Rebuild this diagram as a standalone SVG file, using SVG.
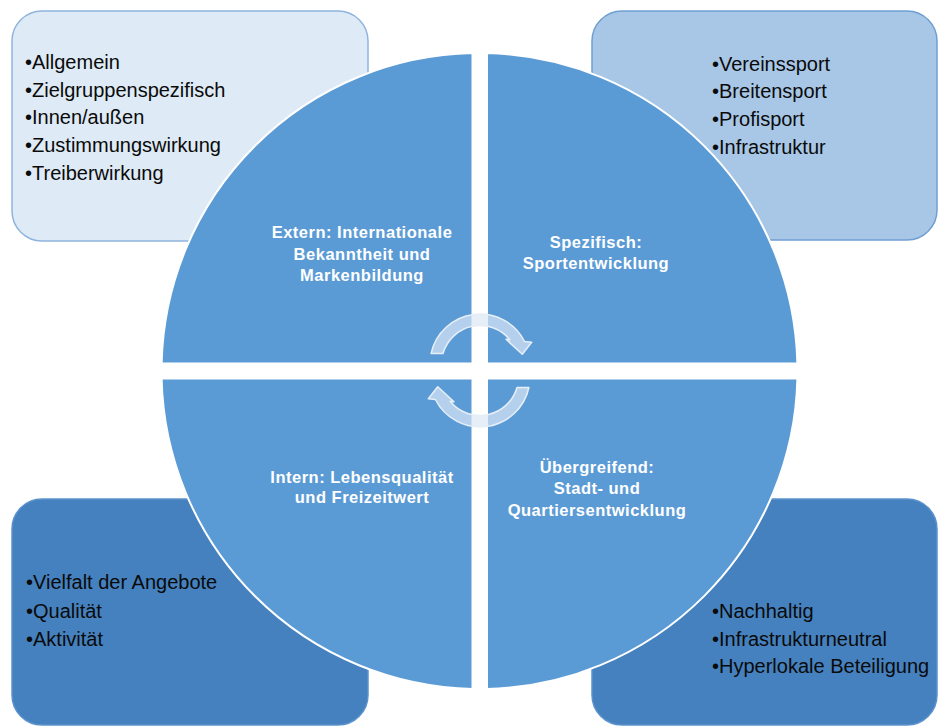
<svg xmlns="http://www.w3.org/2000/svg" width="938" height="727" viewBox="0 0 938 727">
<style>
.box{stroke-width:1.5}
.lt{fill:#deeaf6;stroke:#8fb4de}
.md{fill:#a8c7e7;stroke:#6f9fd2}
.dk{fill:#4581be;stroke:#5b92cb}
.q{fill:#5b9bd5;stroke:#ffffff;stroke-width:2}
.bt{font-family:"Liberation Sans",Arial,sans-serif;font-size:20px;fill:#0a0a0a}
.qt{font-family:"Liberation Sans",Arial,sans-serif;font-size:16.5px;font-weight:bold;fill:#ffffff;text-anchor:middle;letter-spacing:0.5px}
.arr{fill:#dbe7f5;fill-opacity:0.7;stroke:#e6eef8;stroke-width:1.5;stroke-linejoin:round}
</style>
<rect width="938" height="727" fill="#ffffff"/>
<g id="box-tl">
<rect class="box lt" x="12" y="11" width="356" height="230" rx="30"/>
<text class="bt" x="25" y="69">•Allgemein</text>
<text class="bt" x="25" y="96.7">•Zielgruppenspezifisch</text>
<text class="bt" x="25" y="124.4">•Innen/außen</text>
<text class="bt" x="25" y="152.1">•Zustimmungswirkung</text>
<text class="bt" x="25" y="179.8">•Treiberwirkung</text>
</g>
<g id="box-tr">
<rect class="box md" x="592" y="11" width="345" height="229" rx="30"/>
<text class="bt" x="712" y="70.5">•Vereinssport</text>
<text class="bt" x="712" y="98.3">•Breitensport</text>
<text class="bt" x="712" y="126">•Profisport</text>
<text class="bt" x="712" y="153.8">•Infrastruktur</text>
</g>
<g id="box-bl">
<rect class="box dk" x="12" y="499" width="356" height="226" rx="30"/>
<text class="bt" x="26" y="589.3">•Vielfalt der Angebote</text>
<text class="bt" x="26" y="617.7">•Qualität</text>
<text class="bt" x="26" y="645.7">•Aktivität</text>
</g>
<g id="box-br">
<rect class="box dk" x="592" y="499" width="345" height="226" rx="30"/>
<text class="bt" x="712" y="617.7">•Nachhaltig</text>
<text class="bt" x="712" y="645.7">•Infrastrukturneutral</text>
<text class="bt" x="712" y="673.3">•Hyperlokale Beteiligung</text>
</g>
<g id="quad-tl">
<path class="q" d="M472.5,363.5 V53.1 A318 318 0 0 0 161.6,363.5 Z"/>
<text class="qt" x="362" y="238.3">Extern: Internationale</text>
<text class="qt" x="362" y="259.5">Bekanntheit und</text>
<text class="qt" x="362" y="280.7">Markenbildung</text>
</g>
<g id="quad-tr">
<path class="q" d="M487,363.5 V53.1 A318 318 0 0 1 797.4,363.5 Z"/>
<text class="qt" x="596" y="248.3">Spezifisch:</text>
<text class="qt" x="596" y="269.4">Sportentwicklung</text>
</g>
<g id="quad-bl">
<path class="q" d="M472.5,378.5 V688.9 A318 318 0 0 1 161.6,378.5 Z"/>
<text class="qt" x="362" y="482.8">Intern: Lebensqualität</text>
<text class="qt" x="362" y="503">und Freizeitwert</text>
</g>
<g id="quad-br">
<path class="q" d="M487,378.5 V688.9 A318 318 0 0 0 797.4,378.5 Z"/>
<text class="qt" x="597" y="472.7">Übergreifend:</text>
<text class="qt" x="597" y="493.5">Stadt- und</text>
<text class="qt" x="597" y="515.5">Quartiersentwicklung</text>
</g>
<g id="connectors">
<path id="arrow-top" class="arr" d="M431.1,353.5 A50 50 0 0 1 524.6,341.5 L531.7,342.3 L522.3,354.3 L506,339.3 L509.9,339.8 A38.5 38.5 0 0 0 443,353.5 Z"/>
<path id="arrow-bottom" class="arr" transform="rotate(180 480 370.5)" d="M431.1,353.5 A50 50 0 0 1 524.6,341.5 L531.7,342.3 L522.3,354.3 L506,339.3 L509.9,339.8 A38.5 38.5 0 0 0 443,353.5 Z"/>
</g>
</svg>
